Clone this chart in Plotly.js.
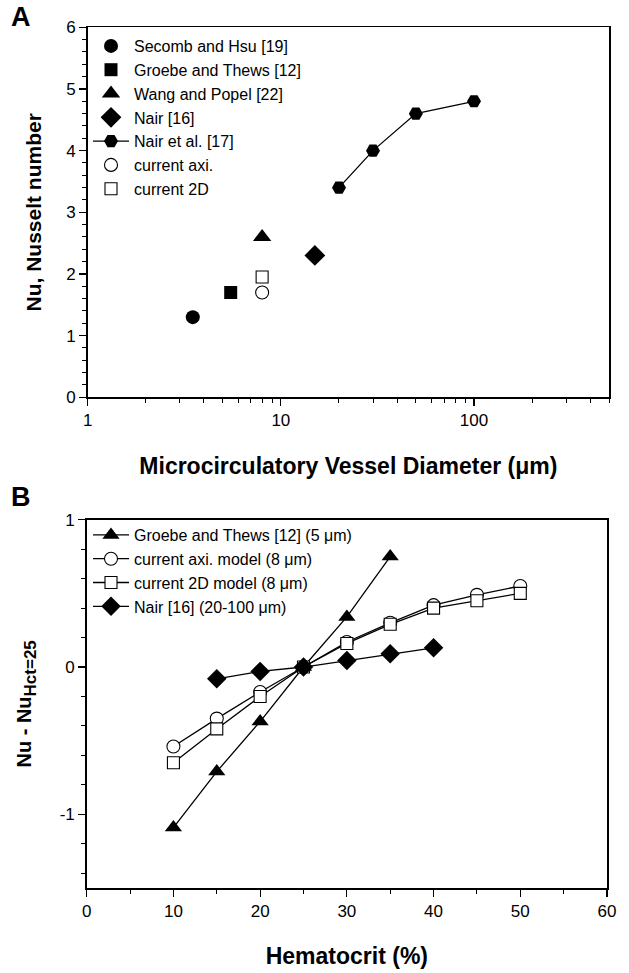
<!DOCTYPE html>
<html>
<head>
<meta charset="utf-8">
<script src="https://cdn.plot.ly/plotly-3.0.1.min.js"></script>
<style>html,body{margin:0;padding:0;background:#fff;}#chart{width:629px;height:973px;}</style>
</head>
<body>
<div id="chart"></div>
<script>
// ---------- Panel A data ----------
const secombX = [3.5],  secombY = [1.3];
const groebeX = [5.5],  groebeY = [1.7];
const wangX   = [8],    wangY   = [2.6];
const nair16X = [15],   nair16Y = [2.3];
const nair17X = [20, 30, 50, 100], nair17Y = [3.4, 4.0, 4.6, 4.8];
const axiX    = [8],    axiY    = [1.7];
const twoDX   = [8],    twoDY   = [1.95];
const namesA = ["Secomb and Hsu [19]", "Groebe and Thews [12]", "Wang and Popel [22]",
                "Nair [16]", "Nair et al. [17]", "current axi.", "current 2D"];
const yTicksA = [0, 1, 2, 3, 4, 5, 6];

// ---------- Panel B data ----------
const hctGroebe = [10, 15, 20, 25, 30, 35];
const dNuGroebe = [-1.09, -0.71, -0.37, 0, 0.34, 0.75];
const hctAxi = [10, 15, 20, 25, 30, 35, 40, 45, 50];
const dNuAxi = [-0.54, -0.35, -0.17, 0, 0.17, 0.30, 0.42, 0.49, 0.55];
const hct2D  = [10, 15, 20, 25, 30, 35, 40, 45, 50];
const dNu2D  = [-0.65, -0.42, -0.20, 0, 0.16, 0.29, 0.40, 0.45, 0.50];
const hctNair = [15, 20, 25, 30, 35, 40];
const dNuNair = [-0.08, -0.03, 0, 0.045, 0.09, 0.13];
const namesB = ["Groebe and Thews [12] (5 \u03bcm)", "current axi. model (8 \u03bcm)",
                "current 2D model (8 \u03bcm)", "Nair [16] (20-100 \u03bcm)"];
const yTickValsB = [-1, 0, 1];
const yTickTextB = ["-1", "0", "1"];

const FONT = "Arial, 'Liberation Sans', sans-serif";
const blk = "#000";

function pt(x, y, name, sym, sz, i, open) {
  return {x: x, y: y, name: name, type: "scatter", mode: "markers",
    xaxis: "x", yaxis: "y", legend: "legend", legendgroup: "a" + i,
    marker: {symbol: sym, size: sz, color: open ? "#fff" : blk,
             line: {color: blk, width: open ? 1.1 : 0}}};
}
function ln(x, y, name, sym, sz, i, open) {
  return {x: x, y: y, name: name, type: "scatter", mode: "lines+markers",
    xaxis: "x2", yaxis: "y2", legend: "legend2", legendgroup: "b" + i,
    line: {color: blk, width: 1.3},
    marker: {symbol: sym, size: sz, color: open ? "#fff" : blk,
             line: {color: blk, width: open ? 1.1 : 0}}};
}

const traces = [
  pt(secombX, secombY, namesA[0], "circle", 14, 0, false),
  pt(groebeX, groebeY, namesA[1], "square", 13, 1, false),
  pt(wangX, wangY, namesA[2], "triangle-up", 16, 2, false),
  pt(nair16X, nair16Y, namesA[3], "diamond", 16, 3, false),
  Object.assign(pt(nair17X, nair17Y, namesA[4], "hexagon2", 14, 4, false),
                {mode: "lines+markers", line: {color: blk, width: 1.3}}),
  pt(axiX, axiY, namesA[5], "circle", 13, 5, true),
  pt(twoDX, twoDY, namesA[6], "square", 12, 6, true),
  ln(hctGroebe, dNuGroebe, namesB[0], "triangle-up", 15, 0, false),
  ln(hctAxi, dNuAxi, namesB[1], "circle", 13, 1, true),
  ln(hct2D, dNu2D, namesB[2], "square", 12, 2, true),
  ln(hctNair, dNuNair, namesB[3], "diamond", 15, 3, false)
];

const W = 629, H = 973;
const axCommon = {
  showline: true, linecolor: blk, linewidth: 1.5, mirror: true,
  ticks: "outside", ticklen: 7, tickwidth: 1.2, tickcolor: blk,
  showgrid: false, zeroline: false,
  tickfont: {family: FONT, size: 17, color: blk}
};
const xTitleFont = {family: FONT, size: 23, color: blk, weight: "bold"};
const yTitleFont = {family: FONT, size: 21, color: blk, weight: "bold"};
const minorT = {ticks: "outside", ticklen: 4, tickwidth: 1, tickcolor: blk, showgrid: false};

const layout = {
  width: W, height: H,
  margin: {l: 0, r: 0, t: 0, b: 0},
  paper_bgcolor: "#fff", plot_bgcolor: "#fff",
  font: {family: FONT, color: blk},
  xaxis: Object.assign({}, axCommon, {
    domain: [87.7 / W, 609 / W], anchor: "y", type: "log",
    range: [0, Math.log10(500)], dtick: 1,
    minor: Object.assign({dtick: "D1"}, minorT),
    title: {text: "<b>Microcirculatory Vessel Diameter (\u03bcm)</b>", font: xTitleFont, standoff: 28}
  }),
  yaxis: Object.assign({}, axCommon, {
    domain: [1 - 397.3 / H, 1 - 27.3 / H], anchor: "x",
    range: [0, 6], tickmode: "array", tickvals: yTicksA,
    minor: Object.assign({dtick: 0.2}, minorT),
    title: {text: "<b>Nu, Nusselt number</b>", font: yTitleFont, standoff: 19}
  }),
  xaxis2: Object.assign({}, axCommon, {
    domain: [86.7 / W, 607 / W], anchor: "y2",
    range: [0, 60], dtick: 10,
    minor: Object.assign({dtick: 5}, minorT),
    title: {text: "<b>Hematocrit (%)</b>", font: xTitleFont, standoff: 28}
  }),
  yaxis2: Object.assign({}, axCommon, {
    domain: [1 - 888 / H, 1 - 519.7 / H], anchor: "x2",
    range: [-1.5, 1], tickmode: "array", tickvals: yTickValsB, ticktext: yTickTextB,
    minor: Object.assign({dtick: 0.2, tick0: 0}, minorT),
    title: {text: "<b>Nu - Nu<sub><span style=\"font-size:17px\">Hct=25</span></sub></b>",
            font: {family: FONT, size: 20, color: blk, weight: "bold"}, standoff: 22}
  }),
  legend: {
    x: 88 / W, y: 1 - 29 / H, xanchor: "left", yanchor: "top",
    bgcolor: "rgba(0,0,0,0)", borderwidth: 0,
    font: {family: FONT, size: 16, color: blk},
    traceorder: "grouped", tracegroupgap: 0, itemwidth: 36
  },
  legend2: {
    x: 88 / W, y: 1 - 518 / H, xanchor: "left", yanchor: "top",
    bgcolor: "rgba(0,0,0,0)", borderwidth: 0,
    font: {family: FONT, size: 16, color: blk},
    traceorder: "grouped", tracegroupgap: 0, itemwidth: 36
  },
  annotations: [
    {text: "<b>A</b>", x: 9 / W, y: 1 - 17 / H, xref: "paper", yref: "paper",
     xanchor: "left", yanchor: "middle", showarrow: false,
     font: {family: FONT, size: 27, color: blk}},
    {text: "<b>B</b>", x: 9 / W, y: 1 - 497 / H, xref: "paper", yref: "paper",
     xanchor: "left", yanchor: "middle", showarrow: false,
     font: {family: FONT, size: 27, color: blk}}
  ],
  showlegend: true
};

Plotly.newPlot("chart", traces, layout, {staticPlot: true, displayModeBar: false});
</script>
</body>
</html>
